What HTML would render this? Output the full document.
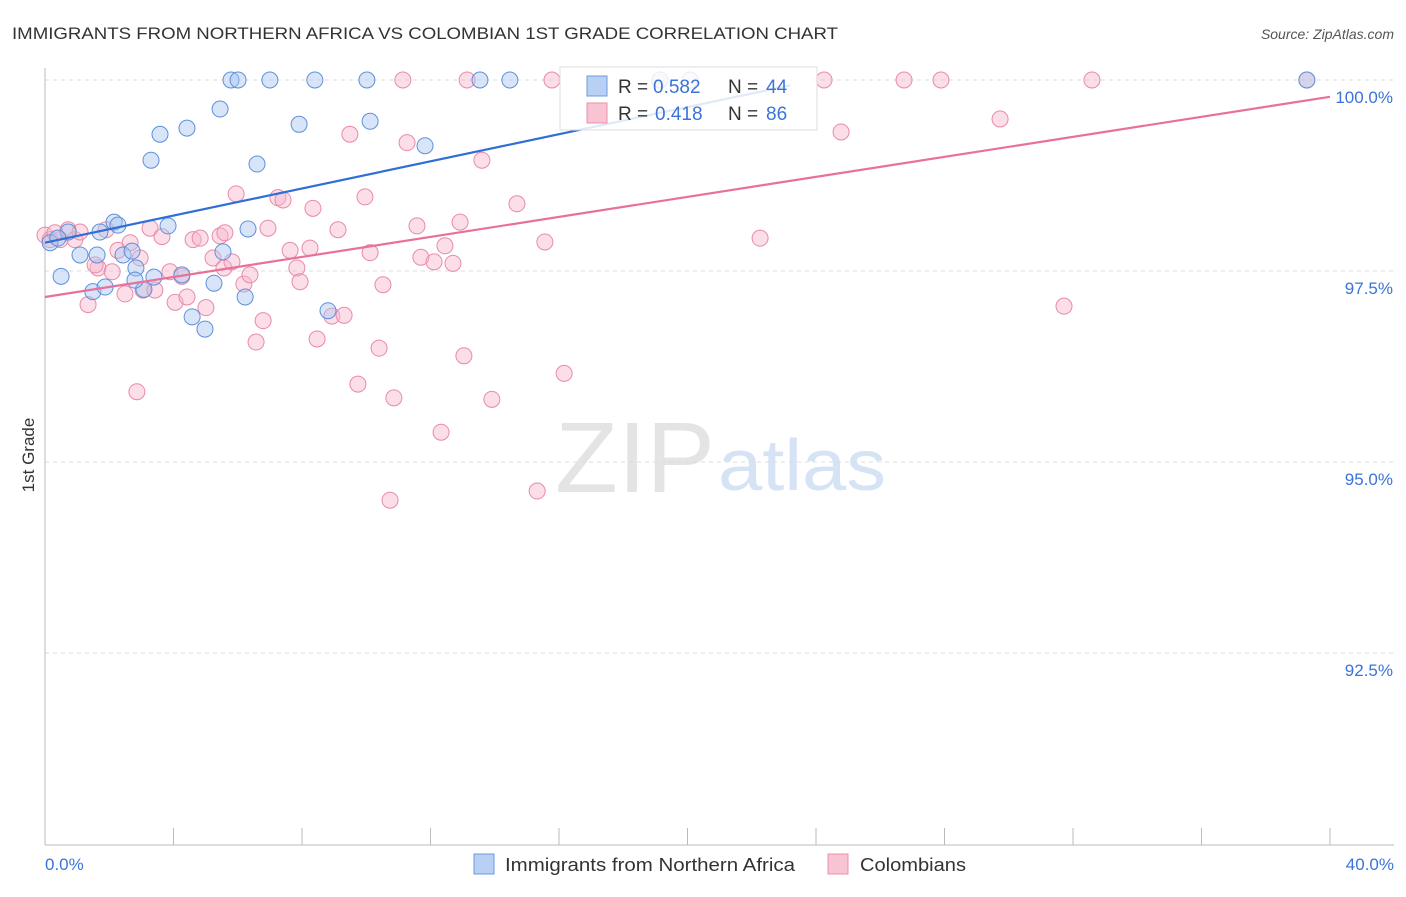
<!DOCTYPE html>
<html><head><meta charset="utf-8"><style>
body{margin:0;background:#fff;font-family:"Liberation Sans",sans-serif;}
svg text{font-family:"Liberation Sans",sans-serif;}
</style></head><body>
<svg id="chart" width="1406" height="892">
<text x="12" y="39" font-size="17" fill="#333" textLength="826" lengthAdjust="spacingAndGlyphs">IMMIGRANTS FROM NORTHERN AFRICA VS COLOMBIAN 1ST GRADE CORRELATION CHART</text>
<text x="1394" y="39" font-size="14" fill="#555" font-style="italic" text-anchor="end">Source: ZipAtlas.com</text>
<text x="555" y="492" font-size="100" fill="#e4e4e4" font-family="Liberation Serif" textLength="160" lengthAdjust="spacingAndGlyphs">ZIP</text>
<text x="718" y="490" font-size="72" fill="#d5e3f5" textLength="168" lengthAdjust="spacingAndGlyphs">atlas</text>
<g id="grid"></g><g id="axes"></g><g id="pts"></g><g id="lines"></g>
<text transform="translate(34,455) rotate(-90)" font-size="17" fill="#333" text-anchor="middle">1st Grade</text>
<g>
<rect x="560" y="67" width="257" height="63" fill="#fff" fill-opacity="0.85" stroke="#ddd"/>
<rect x="587" y="76" width="20" height="20" fill="#b8d0f3" stroke="#6b9be0"/>
<rect x="587" y="103" width="20" height="20" fill="#f8c3d3" stroke="#ec8fab"/>
<text x="618" y="93" font-size="19" fill="#333">R =</text><text x="653" y="93" font-size="19" fill="#3b74d9">0.582</text>
<text x="728" y="93" font-size="19" fill="#333">N =</text><text x="766" y="93" font-size="19" fill="#3b74d9">44</text>
<text x="618" y="120" font-size="19" fill="#333">R =</text><text x="655" y="120" font-size="19" fill="#3b74d9">0.418</text>
<text x="728" y="120" font-size="19" fill="#333">N =</text><text x="766" y="120" font-size="19" fill="#3b74d9">86</text>
</g>
<g>
<rect x="474" y="854" width="20" height="20" fill="#b8d0f3" stroke="#6b9be0"/>
<text x="505" y="871" font-size="18" fill="#333" textLength="290" lengthAdjust="spacingAndGlyphs">Immigrants from Northern Africa</text>
<rect x="828" y="854" width="20" height="20" fill="#f8c3d3" stroke="#ec8fab"/>
<text x="860" y="871" font-size="18" fill="#333" textLength="106" lengthAdjust="spacingAndGlyphs">Colombians</text>
</g>
</svg>
<script>
const xTicks=[0,4,8,12,16,20,24,28,32,36,40];
const yTicks=[100,97.5,95,92.5];
const blueX=[0.16,0.50,0.72,1.09,1.49,1.62,1.87,2.15,2.27,2.43,2.71,2.83,3.08,3.30,3.39,3.58,3.83,4.26,4.42,4.58,4.98,5.26,5.45,5.54,5.79,6.01,6.23,6.32,6.60,7.00,7.91,8.40,8.81,10.02,10.12,11.83,13.54,14.47,19.14,20.08,39.28,0.40,1.71,2.80];
const blueY=[97.87,97.43,98.01,97.71,97.23,97.71,97.29,98.14,98.10,97.71,97.76,97.54,97.26,98.95,97.42,99.29,98.09,97.45,99.37,96.90,96.74,97.34,99.62,97.75,100,100,97.16,98.05,98.90,100,99.42,100,96.98,100,99.46,99.14,100,100,100,100,100,97.93,98.01,97.38];
const pinkX=[0.00,0.16,0.47,0.72,0.93,1.09,1.34,1.65,1.90,2.09,2.27,2.49,2.65,2.86,3.05,3.27,3.42,3.64,3.89,4.05,4.26,4.42,4.61,4.83,5.01,5.23,5.45,5.57,5.82,5.95,6.19,6.38,6.57,6.79,6.94,7.25,7.41,7.63,7.84,7.94,8.25,8.34,8.47,8.93,9.12,9.31,9.49,9.74,9.96,10.12,10.40,10.52,10.74,10.86,11.14,11.27,11.58,11.70,12.11,12.33,12.45,12.70,12.92,13.04,13.14,13.60,13.91,14.69,15.32,15.56,15.78,16.16,19.14,22.26,24.25,24.78,26.74,27.89,29.73,31.72,32.59,39.28,0.31,1.56,2.96,5.60];
const pinkY=[97.97,97.91,97.91,98.04,97.91,98.01,97.06,97.54,98.04,97.49,97.77,97.20,97.87,95.92,97.25,98.06,97.25,97.95,97.49,97.09,97.43,97.16,97.91,97.93,97.02,97.67,97.96,97.54,97.62,98.51,97.33,97.45,96.57,96.85,98.06,98.46,98.43,97.77,97.54,97.36,97.80,98.32,96.61,96.91,98.04,96.92,99.29,96.02,98.47,97.74,96.49,97.32,94.50,95.84,100,99.18,98.09,97.68,97.62,95.39,97.83,97.60,98.14,96.39,100,98.95,95.82,98.38,94.62,97.88,100,96.16,100,97.93,100,99.32,100,100,99.49,97.04,100,100,98.00,97.58,97.67,98.00];
const blueTrend=[[0,97.87],[23.2,99.93]];
const pinkTrend=[[0,97.16],[40,99.78]];
const X=v=>45+v*32.125, Y=v=>80+(100-v)*76.4;
const NS='http://www.w3.org/2000/svg';
function mk(p,t,a){const e=document.createElementNS(NS,t);for(const k in a)e.setAttribute(k,a[k]);p.appendChild(e);return e;}
const g=document.getElementById('grid'),ax=document.getElementById('axes'),pts=document.getElementById('pts'),ln=document.getElementById('lines');
yTicks.forEach(t=>{const l=mk(g,'line',{x1:45,x2:1394,y1:Y(t),y2:Y(t),stroke:'#ddd','stroke-dasharray':'4,4'});


const tx=mk(g,'text',{x:1393,y:Y(t)+23,'font-size':17,fill:'#3b74d9','text-anchor':'end'});tx.textContent=t.toFixed(1)+'%';

});
mk(ax,'line',{x1:45,x2:45,y1:68,y2:845,stroke:'#bbb'});
mk(ax,'line',{x1:45,x2:1394,y1:845,y2:845,stroke:'#bbb'});
xTicks.forEach(t=>{const l=mk(ax,'line',{x1:X(t),x2:X(t),y1:828,y2:845,stroke:'#bbb'});

});
[[0,'0.0%','start',45],[40,'40.0%','end',1394]].forEach(d=>{const tx=mk(ax,'text',{x:d[3],y:870,'font-size':17,fill:'#3b74d9','text-anchor':d[2]});tx.textContent=d[1];

});
function dots(xs,ys,f,s,name){xs.forEach((x,i)=>{const c=mk(pts,'circle',{cx:X(x),cy:Y(ys[i]),r:8,fill:f,'fill-opacity':0.45,stroke:s,'stroke-width':1});

});}
dots(pinkX,pinkY,'#f7b6cb','#e98aa8','colombian-point');
dots(blueX,blueY,'#a9c6f0','#5e90dc','africa-point');
[[blueTrend,'#2f6fd6','africa-trendline'],[pinkTrend,'#e8709a','colombian-trendline']].forEach(d=>{const l=mk(ln,'line',{x1:X(d[0][0][0]),y1:Y(d[0][0][1]),x2:X(d[0][1][0]),y2:Y(d[0][1][1]),stroke:d[1],'stroke-width':2.2});

});
</script>
</body></html>
